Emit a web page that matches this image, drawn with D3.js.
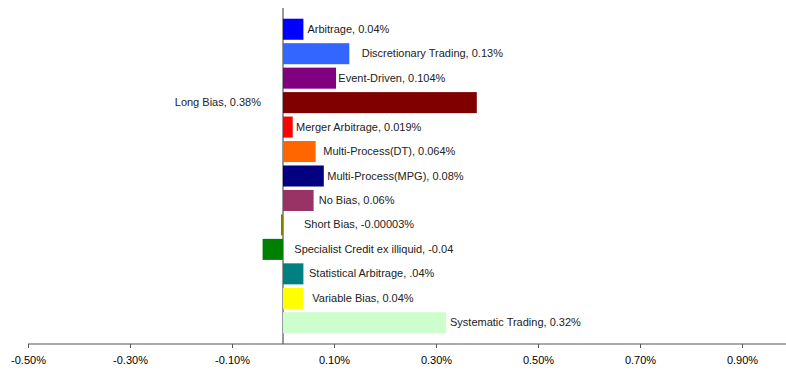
<!DOCTYPE html>
<html>
<head>
<meta charset="utf-8">
<script src="https://cdn.jsdelivr.net/npm/d3@7"></script>
<style>
  body { margin: 0; background: #fff; }
  svg { display: block; font-family: "Liberation Sans", Arial, sans-serif; }
</style>
</head>
<body>
<svg id="chart" width="786" height="371"></svg>
<script>
// ---- data ----
const categories = [
  "Arbitrage", "Discretionary Trading", "Event-Driven", "Long Bias",
  "Merger Arbitrage", "Multi-Process(DT)", "Multi-Process(MPG)", "No Bias",
  "Short Bias", "Specialist Credit ex illiquid", "Statistical Arbitrage",
  "Variable Bias", "Systematic Trading"
];
const values = [0.04, 0.13, 0.104, 0.38, 0.019, 0.064, 0.08, 0.06, -0.00003, -0.04, 0.04, 0.04, 0.32];
const valueLabels = ["0.04%", "0.13%", "0.104%", "0.38%", "0.019%", "0.064%", "0.08%", "0.06%",
  "-0.00003%", "-0.04", ".04%", "0.04%", "0.32%"];
const tickValues = [-0.5, -0.3, -0.1, 0.1, 0.3, 0.5, 0.7, 0.9];
const tickLabels = ["-0.50%", "-0.30%", "-0.10%", "0.10%", "0.30%", "0.50%", "0.70%", "0.90%"];

// ---- styles ----
const colors = ["#0000FF", "#3366FF", "#800080", "#800000", "#FF0000", "#FF6600", "#000080",
  "#993366", "#808000", "#008000", "#008080", "#FFFF00", "#CCFFCC"];
// label horizontal offsets (px) from bar end; negative => placed left of zero line
const labelDx = [4, 12.4, 2.3, -22, 3.3, 7.7, 3.5, 5.1, 21, 11.3, 5.6, 8.9, 3.8];

const svg = d3.select("#chart");
const x = d3.scaleLinear().domain([-0.5, 1.0]).range([28, 793]);
const y = d3.scaleBand().domain(categories).range([17, 335]).paddingInner(0.14).paddingOuter(0.07);

const data = categories.map((c, i) => ({ c, v: values[i], lab: valueLabels[i], col: colors[i], dx: labelDx[i] }));

// minimum visible bar width for tiny non-zero values
const barW = d => d.v === 0 ? 0 : Math.max(Math.abs(x(d.v) - x(0)), 2);

// zero line
svg.append("line")
  .attr("x1", x(0)).attr("x2", x(0))
  .attr("y1", 8).attr("y2", 344)
  .attr("stroke", "#555").attr("stroke-width", 1.2);

// bars
svg.append("g").selectAll("rect").data(data).enter().append("rect")
  .attr("x", d => d.v < 0 ? x(0) - barW(d) : x(0))
  .attr("y", d => y(d.c))
  .attr("width", barW)
  .attr("height", y.bandwidth())
  .attr("fill", d => d.col);

// axis
const axis = d3.axisBottom(x).tickValues(tickValues)
  .tickFormat((d, i) => tickLabels[i]).tickSize(4).tickSizeOuter(0).tickPadding(8);
const gx = svg.append("g").attr("transform", "translate(0,344)").call(axis);
gx.select(".domain").attr("stroke", "#555").attr("stroke-width", 1.2)
  .attr("d", "M" + x(-0.5) + ",0H786");
gx.selectAll(".tick line").attr("stroke", "#555");
gx.selectAll(".tick text").attr("font-size", 11).attr("fill", "#000")
  .attr("font-family", "Liberation Sans, Arial, sans-serif");

// labels
svg.append("g").selectAll("text").data(data).enter().append("text")
  .attr("x", d => d.dx < 0 ? x(0) + d.dx : x(Math.max(0, d.v)) + d.dx)
  .attr("y", d => y(d.c) + y.bandwidth() / 2 + 3.5)
  .attr("text-anchor", d => d.dx < 0 ? "end" : "start")
  .attr("font-size", 11)
  .attr("fill", "#222")
  .text(d => d.c + ", " + d.lab);
</script>
</body>
</html>
